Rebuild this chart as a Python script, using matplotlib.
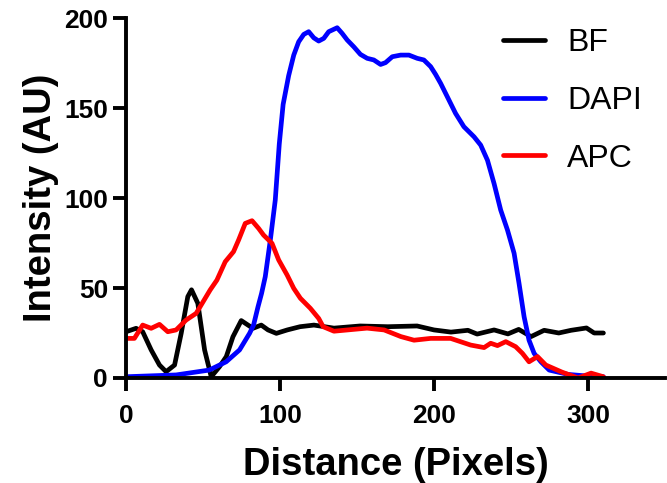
import matplotlib
matplotlib.use("Agg")
import matplotlib.pyplot as plt

plt.rcParams['font.family'] = ['Liberation Sans', 'DejaVu Sans']

bf_x = [0, 6.5, 10.8, 16.3, 21.7, 26, 31.5, 35.8, 40.1, 42.5, 46.6, 51, 55.3, 60.7, 65.1, 69.4, 74.8, 79.2, 82.4, 87.8, 92.2, 97.6, 104.7, 113, 122, 135, 152, 170, 189, 200, 211, 222, 228, 239, 248, 255, 263, 271.5, 281, 289, 299, 304, 310]
bf_y = [25.7, 27.6, 25.7, 15.6, 7.2, 3.5, 7.2, 24.8, 45.2, 49, 41.5, 15.6, 0.7, 6.3, 11.9, 22.9, 31.9, 29.4, 27.6, 29.4, 26.7, 24.8, 26.7, 28.5, 29.4, 27.7, 28.9, 28.5, 28.9, 26.7, 25.5, 26.5, 24.4, 26.7, 24.5, 27, 23, 26.5, 25, 26.5, 27.8, 25, 25]

dapi_x = [0, 32.5, 54, 65, 73.7, 80.2, 82.8, 85.7, 88, 90.4, 93.7, 96.9, 99.5, 102, 105.6, 108.9, 112.1, 115.4, 118.6, 121.9, 125.1, 128.4, 131.6, 137.1, 140.3, 143.6, 147.9, 152.2, 156.6, 160.9, 165.3, 168.5, 172.9, 178.3, 183.7, 189.1, 193.4, 197.8, 201, 204.3, 208.6, 214, 219.4, 226, 230.3, 234.7, 239, 243.3, 247.7, 252, 255.2, 258.5, 261.7, 265, 269.4, 274.8, 287, 298, 310]
dapi_y = [0.7, 1.7, 4.4, 9, 15.6, 24.8, 29.4, 39.6, 47, 56.3, 76.7, 98.9, 130, 152, 168, 179.4, 186.8, 190.9, 192.4, 189, 187.2, 188.7, 192.4, 194.6, 191.5, 187.8, 184, 179.8, 177.6, 176.7, 174.2, 175.2, 178.5, 179.4, 179.4, 177.6, 176.7, 173, 168.7, 163.7, 156.3, 147, 139.6, 134, 129.4, 121, 108, 93.3, 82.2, 69.3, 52.6, 34, 21, 13.7, 9, 4.4, 2, 1.2, 0.7]

apc_x = [0, 5.4, 10.8, 16.3, 21.7, 27.1, 32.5, 39, 45.5, 48.1, 54.6, 59, 64.4, 69.8, 73.1, 77.4, 81.8, 86.1, 89.3, 94.8, 99.1, 104.6, 108.9, 113.2, 119.7, 125.1, 128, 135, 156.5, 167.6, 178.5, 187, 197.8, 210.8, 223.8, 232.5, 236.8, 241.2, 246.6, 253, 257.4, 261.7, 267.2, 272.6, 283, 293.6, 302, 310]
apc_y = [22, 22, 29.4, 27.6, 29.8, 25.7, 26.7, 32.2, 35.9, 39.6, 48.9, 54.4, 64.6, 70.2, 76.7, 85.9, 87.4, 83.1, 79.4, 74.8, 65.6, 57.2, 49.8, 44.3, 38.7, 33.1, 28.5, 26, 27.7, 26.7, 23, 21, 22, 22, 18.3, 16.9, 19.3, 18, 20.2, 17.4, 13.7, 9, 11.9, 7.2, 3.3, 0, 2.7, 0.7]

series_names = ["BF", "DAPI", "APC"]
series_colors = ["black", "#0000ff", "#ff0000"]
x_ticks = [0, 100, 200, 300]
y_ticks = [0, 50, 100, 150, 200]

fig = plt.figure(figsize=(6.67, 4.83), dpi=100)
ax = fig.add_axes([0.189, 0.2174, 0.808, 0.7453])

for (xs, ys), name, c in zip([(bf_x, bf_y), (dapi_x, dapi_y), (apc_x, apc_y)], series_names, series_colors):
    ax.plot(xs, ys, color=c, lw=3.4, label=name, solid_capstyle='round', solid_joinstyle='round')

ax.set_xlim(0, 350)
ax.set_ylim(0, 200)
ax.set_xticks(x_ticks)
ax.set_yticks(y_ticks)
ax.spines['top'].set_visible(False)
ax.spines['right'].set_visible(False)
for s in ['left', 'bottom']:
    ax.spines[s].set_linewidth(2.8)
    ax.spines[s].set_capstyle('projecting')
ax.tick_params(width=2.8, length=9.5, labelsize=19, direction='out', pad=3.5)
ax.tick_params(axis='x', pad=9)
for lbl in ax.get_xticklabels() + ax.get_yticklabels():
    lbl.set_fontweight('bold')
ax.set_xlabel("Distance (Pixels)", fontsize=27.5, fontweight='bold', labelpad=14)
ax.set_ylabel("Intensity (AU)", fontsize=27.5, fontweight='bold', labelpad=3.5)

leg = ax.legend(loc='upper left', frameon=False, fontsize=23, handlelength=1.3,
                labelspacing=0.87, bbox_to_anchor=(0.70, 0.972), handletextpad=0.7,
                borderaxespad=0, borderpad=0)

fig.savefig("out.png", dpi=100)
